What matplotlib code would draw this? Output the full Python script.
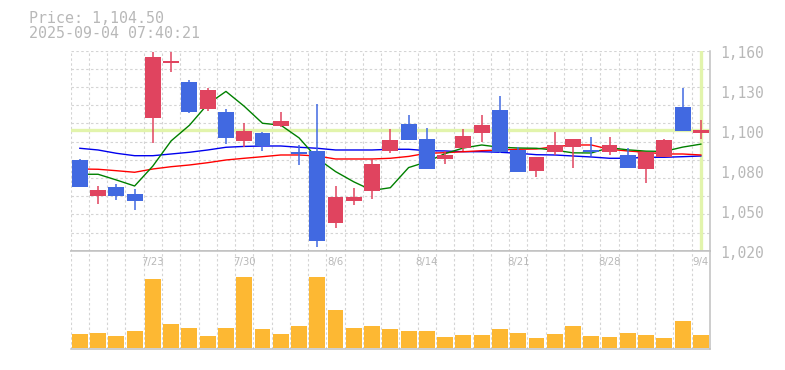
import numpy as np
import matplotlib
matplotlib.use("Agg")
import matplotlib.pyplot as plt
from matplotlib.transforms import offset_copy

# ---- data --------------------------------------------------------------
dates = ["7/16", "7/17", "7/18", "7/22", "7/23", "7/24", "7/25", "7/28", "7/29", "7/30",
         "7/31", "8/1", "8/4", "8/5", "8/6", "8/7", "8/8", "8/12", "8/13", "8/14",
         "8/15", "8/18", "8/19", "8/20", "8/21", "8/22", "8/25", "8/26", "8/27", "8/28",
         "8/29", "9/1", "9/2", "9/3", "9/4"]

opens = [1083.5, 1058.3, 1064.6, 1059.7, 1113.1, 1151.6, 1137.9, 1119.2, 1117.1, 1097.0,
         1102.4, 1107.5, 1089.1, 1089.8, 1039.6, 1055.0, 1062.0, 1090.0, 1108.7, 1098.2,
         1084.4, 1092.1, 1102.6, 1118.5, 1090.5, 1076.0, 1089.3, 1092.4, 1090.5, 1089.3,
         1087.0, 1077.4, 1085.4, 1120.6, 1102.6]
highs = [1084.2, 1065.3, 1066.7, 1063.2, 1158.9, 1158.9, 1139.3, 1133.9, 1119.2, 1109.4,
         1103.3, 1117.1, 1094.0, 1122.7, 1065.3, 1063.9, 1084.0, 1105.2, 1115.0, 1105.9,
         1089.8, 1105.2, 1115.0, 1128.3, 1092.4, 1085.6, 1103.3, 1098.2, 1099.6, 1099.6,
         1091.7, 1089.1, 1098.2, 1133.9, 1111.5]
lows = [1064.8, 1052.7, 1055.7, 1048.5, 1095.6, 1145.3, 1116.6, 1117.8, 1094.9, 1092.4,
        1090.0, 1106.4, 1080.0, 1022.4, 1036.1, 1052.2, 1056.4, 1088.6, 1097.7, 1077.4,
        1080.9, 1089.8, 1096.3, 1088.6, 1075.3, 1071.8, 1087.0, 1077.7, 1086.3, 1087.0,
        1078.1, 1067.6, 1085.4, 1104.0, 1098.2]
closes = [1064.8, 1062.5, 1058.5, 1055.0, 1155.6, 1152.8, 1117.3, 1132.5, 1099.1, 1103.8,
          1093.5, 1110.8, 1087.9, 1027.0, 1057.6, 1057.6, 1080.7, 1097.5, 1097.7, 1077.4,
          1086.8, 1100.3, 1108.0, 1089.3, 1075.3, 1085.6, 1094.0, 1098.2, 1088.9, 1094.0,
          1078.1, 1089.1, 1097.5, 1104.0, 1104.5]

ma_short = [1073.5, 1073.5, 1069.5, 1065.3, 1079.3, 1096.9, 1107.8, 1122.6, 1131.5, 1121.1,
            1109.2, 1107.9, 1099.0, 1084.6, 1075.4, 1068.2, 1062.2, 1064.1, 1078.2, 1082.2,
            1088.0, 1091.9, 1094.0, 1092.4, 1091.9, 1091.7, 1090.4, 1088.5, 1088.4, 1092.1,
            1090.6, 1089.7, 1089.5, 1092.5, 1094.6]
ma_mid = [1077.2, 1077.0, 1076.0, 1074.9, 1077.2, 1078.8, 1080.0, 1081.6, 1083.5, 1084.7,
          1085.8, 1087.0, 1087.0, 1086.3, 1084.2, 1084.2, 1084.2, 1084.7, 1086.0, 1088.2,
          1088.6, 1089.3, 1090.0, 1090.5, 1091.0, 1091.2, 1092.8, 1094.0, 1094.0, 1091.0,
          1089.8, 1088.9, 1087.7, 1087.7, 1087.0]
ma_long = [1091.7, 1090.5, 1088.2, 1086.5, 1086.5, 1087.7, 1088.9, 1090.5, 1092.4, 1093.0,
           1093.3, 1093.3, 1092.4, 1091.7, 1090.5, 1090.5, 1090.5, 1091.0, 1091.0, 1090.0,
           1089.8, 1089.3, 1089.3, 1088.9, 1088.2, 1087.2, 1087.0, 1086.3, 1085.6, 1084.7,
           1084.7, 1085.4, 1085.4, 1085.8, 1086.3]

volumes = [13700, 14700, 11700, 16700, 68700, 23700, 19700, 11700, 19700, 71000,
           18700, 13700, 21700, 71000, 37700, 19700, 21700, 18700, 16700, 16700,
           10700, 12700, 12700, 18700, 14700, 9700, 13700, 21700, 11700, 10700,
           14700, 12700, 9700, 26700, 12700]

date_ticks = ["7/23", "7/30", "8/6", "8/14", "8/21", "8/28", "9/4"]
price_labels = ["1,160", "1,130", "1,100", "1,080", "1,050", "1,020"]
price_min, price_max = 1020, 1160
last_price = 1104.50
stamp = "2025-09-04 07:40:21"

# ---- style ------------------------------------------------------------
RED = "#e0445f"
BLUE = "#4169e1"
ORANGE = "#fdb833"
HILITE = "#e2f4ac"
GRID = "#d4d4d4"
FRAME = "#c0c0c0"
TXT = "#b8b8b8"

plt.rcParams["font.family"] = ["DejaVu Sans Mono"]

W, H = 785, 370
fig = plt.figure(figsize=(W / 100, H / 100), dpi=100)


def box(left, top, right, bottom):
    return [left / W, 1 - bottom / H, (right - left) / W, (bottom - top) / H]


ax = fig.add_axes(box(70.7, 50.7, 710, 250.7))
axv = fig.add_axes(box(70.7, 250.7, 710, 349.3))

x = np.arange(len(dates))
o = np.array(opens)
c = np.array(closes)
up = c >= o
colors = np.where(up, RED, BLUE)

for a in (ax, axv):
    a.set_xlim(-0.5, len(dates) - 0.5)
    a.set_xticks([])
    a.set_yticks([])
    for xi in x[:] - 0.5:
        a.axvline(xi, color=GRID, lw=0.8, ls=(0, (2.2, 2.2)), zorder=0)
    a.spines["left"].set_visible(False)
    for s in ("right", "bottom", "top"):
        a.spines[s].set_color(FRAME)
        a.spines[s].set_linewidth(1.1)
ax.spines["top"].set_visible(False)

# price panel
ax.set_ylim(price_min, price_max)
for yv in np.linspace(price_min, price_max, 12)[1:]:
    ax.axhline(yv, color=GRID, lw=0.8, ls=(0, (2.2, 2.2)), zorder=0)

ax.axhline(last_price, color=HILITE, lw=2.4, zorder=1)
ax.axvline(x[-1], ymin=0.005, ymax=0.995, color=HILITE, lw=2.4, zorder=1)

ax.plot(x, ma_long, color="#0000ee", lw=1.0, zorder=2)
ax.plot(x, ma_mid, color="#ff0000", lw=1.0, zorder=2)
ax.plot(x, ma_short, color="#008000", lw=1.0, zorder=2)

ax.vlines(x, lows, highs, colors=colors, lw=1.1, zorder=3)
ax.bar(x, np.maximum(np.abs(c - o), 0.6), bottom=np.minimum(o, c),
       width=0.87, color=colors, zorder=4)

lab_tr = offset_copy(ax.transAxes, fig=fig, x=10, y=-7.6, units="dots")
for frac, lab in zip(np.linspace(1, 0, len(price_labels)), price_labels):
    ax.text(1, frac, lab, transform=lab_tr, ha="left", va="baseline",
            fontsize=10.5, color=TXT)

# volume panel
axv.set_ylim(-1600, 97000)
axv.bar(x, volumes, width=0.87, color=ORANGE, zorder=2)
for d in date_ticks:
    axv.text(dates.index(d), 0.885, d, transform=axv.get_xaxis_transform(),
             ha="center", va="center", fontsize=7.3, color=TXT,
             family="DejaVu Sans")

fig.text(29.3 / W, 1 - 22.7 / H, f"Price: {last_price:,.2f}", ha="left",
         va="baseline", fontsize=10.8, color=TXT)
fig.text(29.3 / W, 1 - 38.3 / H, stamp, ha="left", va="baseline",
         fontsize=10.8, color=TXT)

fig.savefig("out.png", dpi=100)
